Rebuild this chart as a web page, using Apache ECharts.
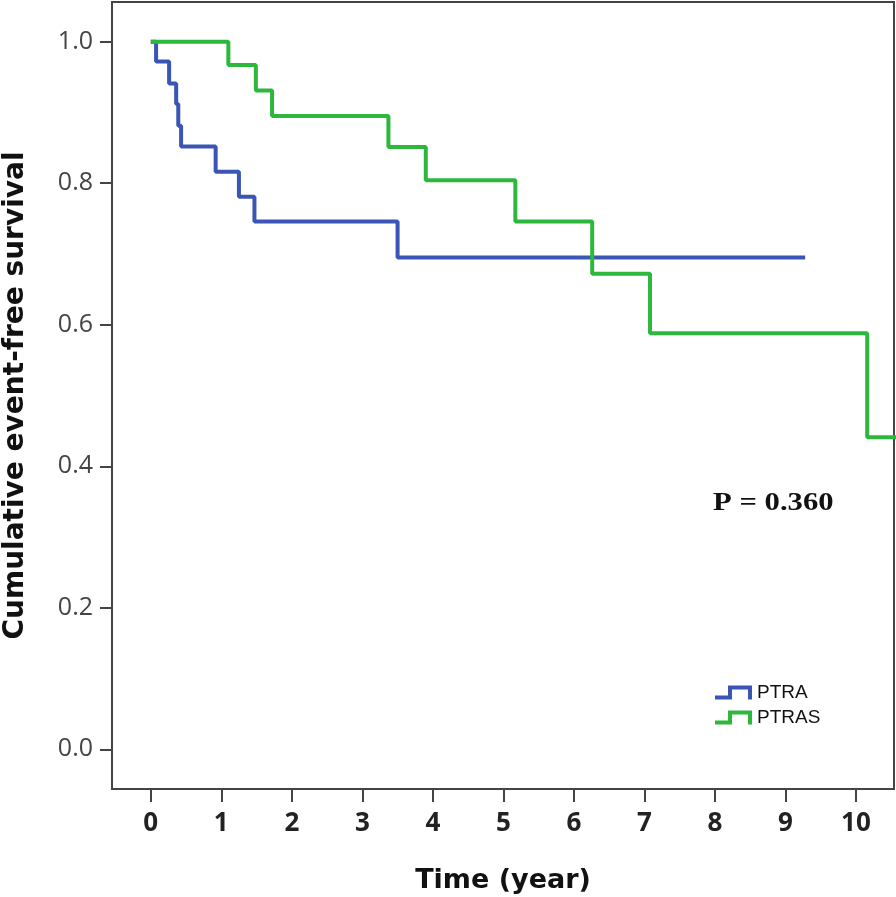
<!DOCTYPE html>
<html><head><meta charset="utf-8">
<script src="https://cdn.jsdelivr.net/npm/echarts@6/dist/echarts.min.js"></script>
<style>html,body{margin:0;padding:0;background:#fff}#c{width:896px;height:897px}</style>
</head><body><div id="c"></div>
<script>
// PTRA (blue)
const ptraTimes = [0, 0.075, 0.26, 0.36, 0.39, 0.43, 0.92, 1.25, 1.47, 3.50, 9.28];
const ptraSurv  = [1.0, 0.972, 0.941, 0.912, 0.881, 0.852, 0.816, 0.781, 0.746, 0.695, 0.695];
// PTRAS (green)
const ptrasTimes = [0, 1.10, 1.49, 1.72, 3.37, 3.90, 5.17, 6.26, 7.08, 10.16, 10.6];
const ptrasSurv  = [1.0, 0.967, 0.931, 0.895, 0.851, 0.804, 0.746, 0.672, 0.588, 0.441, 0.441];
const xTicks = [0,1,2,3,4,5,6,7,8,9,10];
const yTicks = [0,0.2,0.4,0.6,0.8,1.0];
const seriesNames = ['PTRA','PTRAS'];
const pText = 'P = 0.360';

const zip = (a,b)=>a.map((t,i)=>[t,b[i]]);
const stepIcon = 'path://M0,10L13,10L13,0L37,0L37,14L33,14L33,4L17,4L17,14L0,14Z';
const chart = echarts.init(document.getElementById('c'));
chart.setOption({
  animation:false,
  grid:{left:112,right:2,top:2,bottom:108,outerBoundsMode:'none',containLabel:false,show:true,borderColor:'#444',borderWidth:2},
  xAxis:{type:'value',min:-0.55,max:10.54,
    name:'Time (year)',nameLocation:'middle',nameGap:78,
    nameTextStyle:{fontFamily:'DejaVu Sans',fontWeight:'bold',fontSize:27,color:'#111'},
    axisLine:{onZero:false,lineStyle:{color:'#444',width:2}},
    axisTick:{show:true,customValues:xTicks,length:13,lineStyle:{color:'#444',width:2}},
    axisLabel:{customValues:xTicks,margin:22,fontFamily:'Open Sans',fontWeight:'bold',fontSize:26,color:'#222'},
    splitLine:{show:false}},
  yAxis:{type:'value',min:-0.056,max:1.056,
    name:'Cumulative event-free survival',nameLocation:'middle',nameGap:82,
    nameTextStyle:{fontFamily:'DejaVu Sans',fontWeight:'bold',fontSize:28,color:'#111'},
    axisLine:{show:true,onZero:false,lineStyle:{color:'#444',width:2}},
    axisTick:{show:true,customValues:yTicks,length:12,lineStyle:{color:'#444',width:2}},
    axisLabel:{customValues:yTicks,margin:19,fontFamily:'Open Sans',fontSize:25,color:'#444',formatter:v=>v.toFixed(1)},
    splitLine:{show:false}},
  legend:{orient:'vertical',left:715,top:683,padding:0,itemWidth:37,itemHeight:14,itemGap:6,icon:stepIcon,
    textStyle:{fontFamily:'Liberation Sans',fontSize:19,color:'#111',padding:[0,0,0,0]},
    data:seriesNames},
  graphic:[{type:'text',x:713,y:490,scaleX:1.18,style:{text:pText,fontFamily:'Liberation Serif',fontWeight:'bold',fontSize:26,fill:'#111'}}],
  series:[
    {name:seriesNames[0],type:'line',step:'end',data:zip(ptraTimes,ptraSurv),showSymbol:false,symbol:'none',
      lineStyle:{color:'#3A55B4',width:4},itemStyle:{color:'#3A55B4'},clip:true},
    {name:seriesNames[1],type:'line',step:'end',data:zip(ptrasTimes,ptrasSurv),showSymbol:false,symbol:'none',
      lineStyle:{color:'#2DB83D',width:4},itemStyle:{color:'#2DB83D'},clip:true}
  ]
});
</script></body></html>
